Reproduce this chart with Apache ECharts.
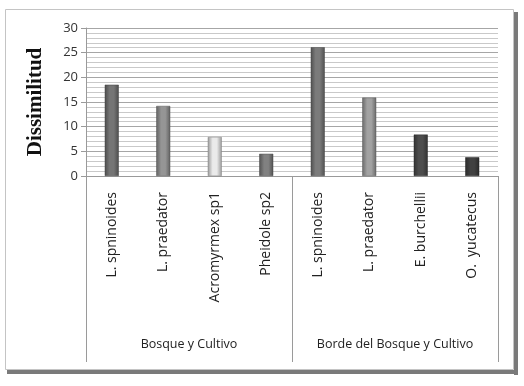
<!DOCTYPE html>
<html>
<head>
<meta charset="utf-8">
<script src="https://cdn.jsdelivr.net/npm/echarts@6/dist/echarts.min.js"></script>
<style>
  html, body { margin: 0; padding: 0; background: #fff; }
  #chart { width: 524px; height: 386px; }
</style>
</head>
<body>
<div id="chart"></div>
<script>
var species = ['L. spninoides', 'L. praedator', 'Acromyrmex sp1', 'Pheidole sp2',
               'L. spninoides', 'L. praedator', 'E. burchellii', 'O.  yucatecus'];
var groups = ['Bosque y Cultivo', 'Borde del Bosque y Cultivo'];
var dissimilitud = [18.5, 14.2, 7.9, 4.5, 26.1, 15.9, 8.4, 3.8];

// bar shades, one per bar
var shades = ['#6c6c6c', '#8a8a8a', '#d9d9d9', '#777777', '#727272', '#969696', '#474747', '#3c3c3c'];

function shade(hex, f) {
    var n = parseInt(hex.slice(1), 16);
    var r = (n >> 16) & 255, g = (n >> 8) & 255, b = n & 255;
    function c(v) { return Math.max(0, Math.min(255, Math.round(v * f))); }
    return 'rgb(' + c(r) + ',' + c(g) + ',' + c(b) + ')';
}

var barData = [];
for (var i = 0; i < dissimilitud.length; i++) {
    var base = shades[i];
    barData.push({
        value: dissimilitud[i],
        itemStyle: {
            color: new echarts.graphic.LinearGradient(0, 0, 1, 0, [
                { offset: 0, color: shade(base, 0.7) },
                { offset: 0.35, color: shade(base, 1.08) },
                { offset: 0.65, color: shade(base, 1.08) },
                { offset: 1, color: shade(base, 0.7) }
            ]),
            borderColor: shade(base, 0.6),
            borderWidth: 0.5
        }
    });
}

var myChart = echarts.init(document.getElementById('chart'));

var option = {
    backgroundColor: '#ffffff',
    animation: false,
    grid: { left: 86, right: 26, top: 28, bottom: 210 },
    graphic: [
        { type: 'rect', shape: { x: 514, y: 12, width: 4, height: 363 }, style: { fill: '#7a7a7a' } },
        { type: 'rect', shape: { x: 7, y: 370, width: 511, height: 4 }, style: { fill: '#7a7a7a' } },
        { type: 'rect', shape: { x: 5.5, y: 9.5, width: 508, height: 360 }, style: { fill: 'none', stroke: '#c4c4c4', lineWidth: 1 } },
        // closing boundary of the last group
        { type: 'line', shape: { x1: 498.5, y1: 176, x2: 498.5, y2: 362 }, style: { stroke: '#9a9a9a', lineWidth: 1 } }
    ],
    xAxis: [
        {
            type: 'category',
            data: species,
            axisLine: { lineStyle: { color: '#9a9a9a' } },
            axisTick: { show: false },
            axisLabel: {
                rotate: 90,
                margin: 16,
                interval: 0,
                fontFamily: 'Open Sans',
                fontSize: 14,
                color: '#222'
            }
        },
        {
            type: 'category',
            data: groups,
            position: 'bottom',
            axisLine: { show: false },
            axisTick: { show: true, interval: 0, length: 186, lineStyle: { color: '#9a9a9a' } },
            axisLabel: {
                interval: 0,
                hideOverlap: false,
                margin: 162,
                fontFamily: 'Open Sans',
                fontSize: 12.5,
                color: '#222'
            }
        }
    ],
    yAxis: {
        type: 'value',
        min: 0,
        max: 30,
        interval: 5,
        name: 'Dissimilitud',
        nameLocation: 'middle',
        nameGap: 40,
        nameTextStyle: {
            fontFamily: 'Liberation Serif',
            fontWeight: 'bold',
            fontSize: 21,
            color: '#111'
        },
        axisLine: { show: true, lineStyle: { color: '#9a9a9a' } },
        axisTick: { show: true, length: 5, lineStyle: { color: '#9a9a9a' } },
        axisLabel: { fontFamily: 'Open Sans', fontSize: 13, color: '#333', margin: 8 },
        splitLine: { show: true, lineStyle: { color: '#a6a6a6', width: 1 } },
        minorTick: { show: false, splitNumber: 5 },
        minorSplitLine: { show: true, lineStyle: { color: '#c9c9c9', width: 1 } }
    },
    series: [{
        name: 'Dissimilitud',
        type: 'bar',
        xAxisIndex: 0,
        barWidth: 14,
        data: barData
    }]
};

myChart.setOption(option);
</script>
</body>
</html>
